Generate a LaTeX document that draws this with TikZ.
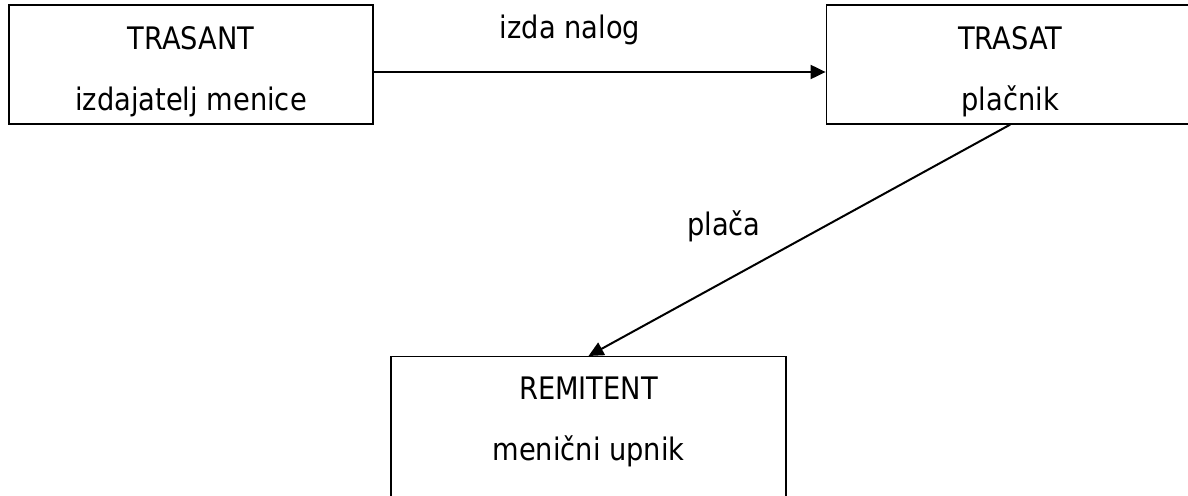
\documentclass[tikz,border=0pt]{standalone}
\usepackage{fontspec}
\setmainfont{DejaVu Sans}[FakeStretch=0.88]
\usetikzlibrary{arrows.meta, positioning}

\begin{document}
\begin{tikzpicture}[x=1pt, y=-1pt, >={Triangle[length=15pt,width=14pt]}, font=\fontsize{31}{61}\selectfont]
  \tikzset{
    party/.style={rectangle, draw=black, line width=1.2pt, align=center, inner sep=0pt},
    tag/.style={anchor=base, inner sep=0pt},
    flow/.style={->, line width=2pt}
  }
  \useasboundingbox (0,0) rectangle (1188,495);

  \node[party, minimum width=364pt, minimum height=119pt] (trasant) at (191,64.5)
    {\rule{0pt}{38pt}TRASANT\\izdajatelj menice\rule[-7.5pt]{0pt}{0pt}};
  \node[party, minimum width=368pt, minimum height=119pt] (trasat) [right=452pt of trasant]
    {\rule{0pt}{38pt}TRASAT\\plačnik\rule[-7.5pt]{0pt}{0pt}};
  \node[party, minimum width=395pt, minimum height=160pt, anchor=north] (remitent) at (588.5,356)
    {\rule{0pt}{26pt}REMITENT\\menični upnik\rule[-39pt]{0pt}{0pt}};

  \node[tag] (nalog) at (570,38) {izda nalog};
  \node[tag] (placa) at (724,235) {plača};

  \draw[flow] ([yshift=-7.5pt]trasant.east) -- ([yshift=-7.5pt]trasat.west);
  \draw[flow] (trasat.south) -- (remitent.north);

\end{tikzpicture}
\end{document}
